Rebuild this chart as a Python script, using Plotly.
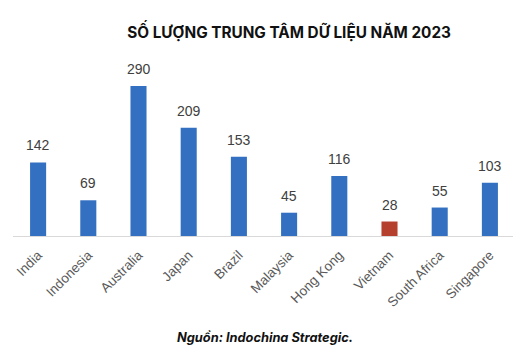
import plotly.graph_objects as go

countries = ["India", "Indonesia", "Australia", "Japan", "Brazil", "Malaysia",
             "Hong Kong", "Vietnam", "South Africa", "Singapore"]
counts = [142, 69, 290, 209, 153, 45, 116, 28, 55, 103]
highlight = "Vietnam"

blue = "#3370C2"
red = "#B5402E"
colors = [red if c == highlight else blue for c in countries]

fig = go.Figure(go.Bar(
    x=countries, y=counts, marker_color=colors, marker_line_width=0,
))

label_annots = [dict(x=c, y=v, xref="x", yref="y", text=str(v), showarrow=False,
                     yanchor="bottom", yshift=7,
                     font=dict(family="Liberation Sans, Arial", size=14, color="#404040"))
                for c, v in zip(countries, counts)]

fig.update_layout(
    width=513, height=350,
    margin=dict(l=5, r=6, t=52, b=122),
    paper_bgcolor="white", plot_bgcolor="white",
    bargap=0.68,
    showlegend=False,
    title=dict(text="<b>SỐ LƯỢNG TRUNG TÂM DỮ LIỆU NĂM 2023</b>",
               x=0.548, xanchor="center", y=0.931, yanchor="middle",
               font=dict(family="Inter", size=15.3, color="#111111")),
    annotations=label_annots + [dict(text="<b><i>Nguồn: Indochina Strategic.</i></b>",
                      xref="paper", yref="paper", x=0.502, y=-0.574,
                      xanchor="center", yanchor="middle", showarrow=False,
                      font=dict(family="Inter", size=12.8, color="#111111"))],
)
fig.update_xaxes(showline=True, linecolor="#D9D9D9", linewidth=1,
                 tickangle=-45, ticks="", ticklabelstandoff=5,
                 tickfont=dict(family="Liberation Sans, Arial", size=13.5, color="#595959"))
fig.update_yaxes(range=[0, 340], visible=False, showgrid=False, zeroline=False)

fig.write_html("out.html")
